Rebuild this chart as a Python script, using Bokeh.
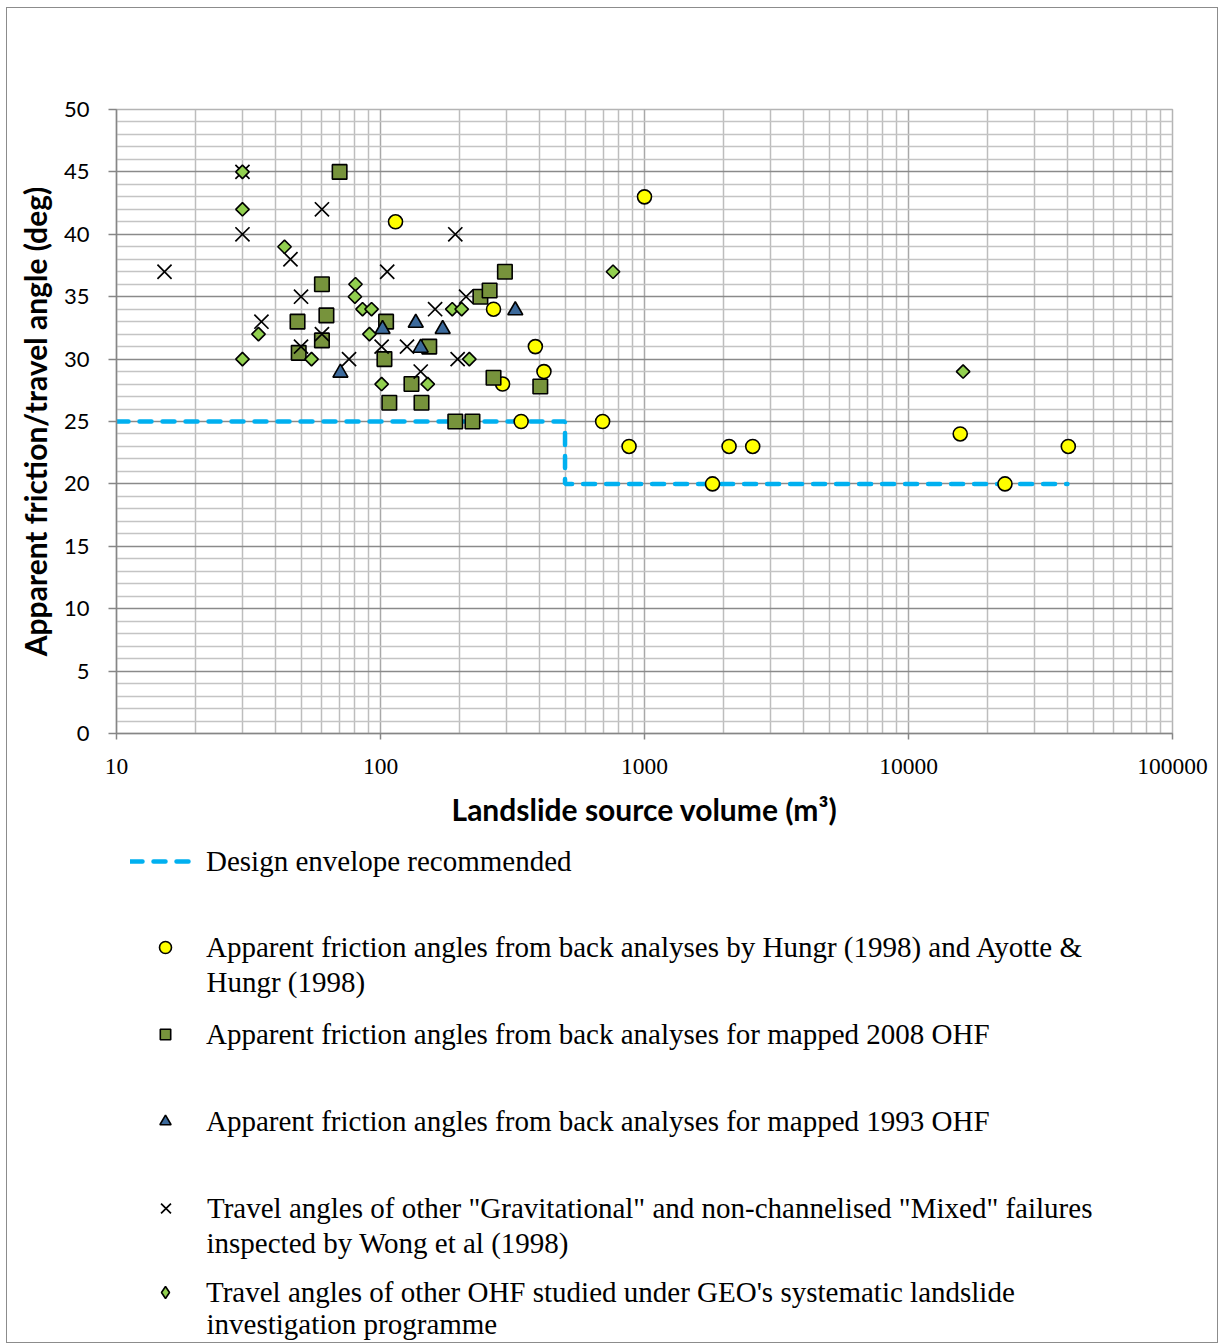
import numpy as np
from bokeh.plotting import figure
from bokeh.layouts import column
from bokeh.models import Range1d, FixedTicker, Legend, LegendItem, Label
from bokeh.embed import file_html
from bokeh.resources import INLINE

# ---------------- data ----------------
hungr_vol = [114, 1000, 268, 386, 416, 290, 341, 694, 874, 1810, 2091, 2570, 15700, 23200, 40300]
hungr_ang = [41, 43, 34, 31, 29, 28, 25, 25, 23, 20, 23, 23, 24, 20, 23]

ohf2008_vol = [70, 60, 62.4, 48.5, 60, 49, 105, 103.5, 108, 131, 143, 153, 192, 223, 239, 259, 296, 268, 403]
ohf2008_ang = [45, 36, 33.5, 33, 31.5, 30.5, 33, 30, 26.5, 28, 26.5, 31, 25, 25, 35, 35.5, 37, 28.5, 27.8]

ohf1993_vol = [70.5, 101.8, 136, 172, 142, 324]
ohf1993_ang = [28.9, 32.4, 32.9, 32.4, 30.9, 33.9]

wong_vol = [30, 60, 30, 15.2, 45.6, 106, 50, 35.4, 60, 50, 76, 101, 126, 161, 211, 196, 142, 192]
wong_ang = [45, 42, 40, 37, 38, 37, 35, 33, 32, 31, 30, 31, 31, 34, 35, 30, 29, 40]

geo_vol = [30, 30, 43.3, 34.5, 30, 54.8, 80.4, 80, 85.5, 92.5, 90.8, 101, 151, 187, 203, 217, 760, 16100]
geo_ang = [45, 42, 39, 32, 30, 30, 36, 35, 34, 34, 32, 28, 28, 34, 34, 30, 37, 29]

envelope_vol = [10, 500, 500, 40000]
envelope_ang = [25, 25, 20, 20]

x_ticks = [10, 100, 1000, 10000, 100000]
x_tick_labels = ["10", "100", "1000", "10000", "100000"]
y_ticks = [0, 5, 10, 15, 20, 25, 30, 35, 40, 45, 50]

x_title = "Landslide source volume (m\u00b3)"
y_title = "Apparent friction/travel angle (deg)"

legend_texts = [
    ["Design envelope recommended"],
    ["Apparent friction angles from back analyses by Hungr (1998) and Ayotte &", "Hungr (1998)"],
    ["Apparent friction angles from back analyses for mapped 2008 OHF"],
    ["Apparent friction angles from back analyses for mapped 1993 OHF"],
    ["Travel angles of other \"Gravitational\" and non-channelised \"Mixed\" failures",
     "inspected by Wong et al (1998)"],
    ["Travel angles of other OHF studied under GEO's systematic landslide",
     "investigation programme"],
]

# ---------------- styles ----------------
ENV_STYLE = dict(line_color="#00B0F0", line_width=4.5, line_dash="12 11", line_cap="round")
HUNGR_STYLE = dict(marker="circle", fill_color="#FFFF00", line_color="black", line_width=1.6)
OHF08_STYLE = dict(marker="square", fill_color="#77933C", line_color="black", line_width=1.6)
OHF93_STYLE = dict(marker="triangle", fill_color="#3C6A9C", line_color="black", line_width=1.6)
WONG_STYLE = dict(marker="x", line_color="black", line_width=1.7)
GEO_FILL = dict(fill_color="#92D050", line_color="black", line_width=1.6)

# ---------------- geometry (page px) ----------------
OX, OY = 7, 8                      # page position of the layout's content box
W = 1210
SPLIT = 835                        # page y where the legend panel begins
BOTTOM = 1342                      # page y of the layout's bottom edge
H1 = SPLIT - OY
H2 = BOTTOM - SPLIT
FR_LEFT, FR_RIGHT, FR_TOP, FR_BOTTOM = 116, 1172, 109, 733

# ---------------- chart figure ----------------
p = figure(width=W, height=H1, x_axis_type="log",
           x_range=Range1d(10, 100000), y_range=Range1d(0, 50),
           output_backend="svg", toolbar_location=None,
           min_border_left=FR_LEFT - OX,
           min_border_right=W - (FR_RIGHT - OX),
           min_border_top=FR_TOP - OY,
           min_border_bottom=H1 - (FR_BOTTOM - OY),
           background_fill_color="white", border_fill_color="white")
p.outline_line_color = "#b4b4b4"
p.outline_line_width = 1.5

x_minor = [m * d for d in [10, 100, 1000, 10000] for m in range(2, 10)]
y_minor = [v for v in range(0, 51) if v % 5 != 0]
p.xaxis.ticker = FixedTicker(ticks=x_ticks, minor_ticks=x_minor)
p.yaxis.ticker = FixedTicker(ticks=y_ticks, minor_ticks=y_minor)
p.xgrid.ticker = p.xaxis[0].ticker
p.ygrid.ticker = p.yaxis[0].ticker

p.xgrid.grid_line_color = "#a8a8a8"
p.xgrid.grid_line_width = 1.5
p.xgrid.minor_grid_line_color = "#bdbdbd"
p.xgrid.minor_grid_line_width = 1.5
p.ygrid.grid_line_color = "#8a8a8a"
p.ygrid.grid_line_width = 1.5
p.ygrid.minor_grid_line_color = "#c4c4c4"
p.ygrid.minor_grid_line_width = 1.5

for ax in (p.xaxis[0], p.yaxis[0]):
    ax.axis_line_color = "#868686"
    ax.axis_line_width = 1.5
    ax.major_tick_line_color = "#868686"
    ax.major_tick_line_width = 1.5
    ax.major_tick_in = 0
    ax.minor_tick_in = 0
    ax.minor_tick_out = 0
    ax.major_label_text_color = "black"
    ax.axis_label_text_color = "black"
    ax.axis_label_text_font = "Lato"
    ax.axis_label_text_font_style = "bold"
    ax.axis_label_text_font_size = "30px"

p.yaxis.major_tick_out = 8
p.yaxis.major_label_standoff = 19
p.yaxis.major_label_text_font = "Lato"
p.yaxis.major_label_text_font_size = "22px"
p.yaxis.axis_label = y_title
p.yaxis.axis_label_standoff = 8

p.xaxis.major_tick_out = 6
p.xaxis.major_label_standoff = 19
p.xaxis.major_label_text_font = "Liberation Serif"
p.xaxis.major_label_text_font_size = "23.5px"
p.xaxis.major_label_overrides = {t: lab for t, lab in zip(x_ticks, x_tick_labels)}
p.xaxis.axis_label = x_title
p.xaxis.axis_label_standoff = 14

p.line(envelope_vol, envelope_ang, **ENV_STYLE)
p.scatter(hungr_vol, hungr_ang, size=14, **HUNGR_STYLE)
p.scatter(ohf2008_vol, ohf2008_ang, size=14.5, **OHF08_STYLE)
p.scatter(ohf1993_vol, ohf1993_ang, size=15, **OHF93_STYLE)
p.scatter(wong_vol, wong_ang, size=20, **WONG_STYLE)
p.scatter(geo_vol, geo_ang, size=9.5, marker="square", angle=np.pi / 4, **GEO_FILL)

# ---------------- legend panel ----------------
p2 = figure(width=W, height=H2, x_range=Range1d(0, 1), y_range=Range1d(0, 1),
            output_backend="svg", toolbar_location=None,
            x_axis_location=None, y_axis_location=None,
            min_border_left=FR_LEFT - OX, min_border_right=W - (FR_RIGHT - OX),
            min_border_top=0, min_border_bottom=0,
            background_fill_color="white", border_fill_color="white")
p2.grid.visible = False
p2.outline_line_color = None

# legend-only proxies (no data points)
nan = [np.nan]
lr_env = p2.line(nan, nan, **ENV_STYLE)
lr_hungr = p2.scatter(nan, nan, size=14, **HUNGR_STYLE)
lr_08 = p2.scatter(nan, nan, size=14.5, **OHF08_STYLE)
lr_93 = p2.scatter(nan, nan, size=15, **OHF93_STYLE)
lr_wong = p2.scatter(nan, nan, size=14, **WONG_STYLE)
lr_geo = p2.scatter(nan, nan, size=9.5, marker="diamond", **GEO_FILL)

LEG_FONT = "Liberation Serif"
LEG_SIZE = "29px"
TEXT_X = 206          # page x where legend text starts
MARK_X = 165          # page x of legend marker centres
ROW_H = 40

def vx(xp):
    return int(round(xp - FR_LEFT))

def vy(yp):
    return int(round(BOTTOM - yp))

def style_legend(lg):
    lg.padding = 0
    lg.margin = 0
    lg.spacing = 0
    lg.border_line_color = None
    lg.background_fill_alpha = 0
    lg.label_text_font = LEG_FONT
    lg.label_text_font_size = LEG_SIZE
    lg.label_text_color = "black"

lg0 = Legend(items=[LegendItem(label=legend_texts[0][0], renderers=[lr_env])],
             glyph_width=63, glyph_height=ROW_H, label_height=ROW_H,
             label_standoff=TEXT_X - 193)
style_legend(lg0)
lg0.location = (vx(861 * 0 + 130), vy(861 + ROW_H / 2))
p2.add_layout(lg0, "center")

# (proxy renderer, legend glyph box width, row centre y, gap to wrapped line)
leg_specs = [
    (lr_hungr, 30, 947, 34),
    (lr_08, 26, 1034, 33),
    (lr_93, 28, 1121, 33),
    (lr_wong, 35, 1208, 34),
    (lr_geo, 30, 1292, 31),
]
for (rend, gw, yc, gap), texts in zip(leg_specs, legend_texts[1:]):
    lg = Legend(items=[LegendItem(label=texts[0], renderers=[rend])],
                glyph_width=gw, glyph_height=ROW_H, label_height=ROW_H,
                label_standoff=int(round(TEXT_X - (MARK_X + gw / 2))))
    style_legend(lg)
    lg.location = (vx(MARK_X - gw / 2), vy(yc + ROW_H / 2))
    p2.add_layout(lg, "center")
    for k, line in enumerate(texts[1:], start=1):
        p2.add_layout(Label(x=vx(TEXT_X), y=vy(yc + k * gap),
                            x_units="screen", y_units="screen", text=line,
                            text_font=LEG_FONT, text_font_size=LEG_SIZE,
                            text_baseline="middle", text_align="left", text_color="black"))

layout = column(p, p2, spacing=0,
                styles={"border": "1px solid #8c8c8c", "margin-left": "6px", "margin-top": "7px"})

open("out.html", "w").write(file_html(layout, INLINE))
